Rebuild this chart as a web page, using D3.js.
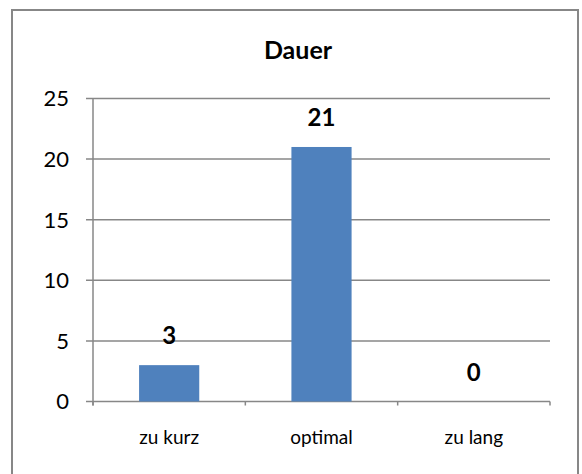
<!DOCTYPE html>
<html>
<head>
<meta charset="utf-8">
<script src="https://cdn.jsdelivr.net/npm/d3@7"></script>
<style>
body{margin:0;background:#fff;}
text{font-family:Lato,"Open Sans",sans-serif;fill:#000;}
</style>
</head>
<body>
<script>
var categories = ["zu kurz", "optimal", "zu lang"];
var values = [3, 21, 0];
var yTicks = [0, 5, 10, 15, 20, 25];
var title = "Dauer";

var W = 582, H = 474;
var plot = {left: 93, right: 550, top: 98.5, bottom: 401.5};

var svg = d3.select("body").append("svg")
  .attr("width", W).attr("height", H);

// outer frame (bottom edge falls outside the picture)
svg.append("rect")
  .attr("x", 12).attr("y", 10)
  .attr("width", 566).attr("height", 480)
  .attr("fill", "none")
  .attr("stroke", "#878787")
  .attr("stroke-width", 2);

var x = d3.scaleBand().domain(categories)
  .range([plot.left, plot.right])
  .paddingInner(0.605).paddingOuter(0.3025);

var y = d3.scaleLinear().domain([0, 25])
  .range([plot.bottom, plot.top]);

// gridlines
svg.append("g").selectAll("line")
  .data(yTicks).enter().append("line")
  .attr("x1", plot.left - 7).attr("x2", plot.right)
  .attr("y1", d => y(d)).attr("y2", d => y(d))
  .attr("stroke", "#878787").attr("stroke-width", 1.5);

// y axis line
svg.append("line")
  .attr("x1", plot.left).attr("x2", plot.left)
  .attr("y1", plot.top).attr("y2", plot.bottom + 4)
  .attr("stroke", "#878787").attr("stroke-width", 1.5);

// y tick labels
svg.append("g").selectAll("text")
  .data(yTicks).enter().append("text")
  .attr("x", 69).attr("y", d => y(d))
  .attr("dy", "0.36em")
  .attr("text-anchor", "end")
  .style("font-size", "22px")
  .text(d => d);

// x category tick marks at band edges
var edges = categories.map(c => x(c) - x.step() * x.paddingInner() / 2);
edges.push(plot.right);
svg.append("g").selectAll("line")
  .data(edges).enter().append("line")
  .attr("x1", d => d).attr("x2", d => d)
  .attr("y1", plot.bottom).attr("y2", plot.bottom + 4)
  .attr("stroke", "#878787").attr("stroke-width", 1.5);

// bars
svg.append("g").selectAll("rect")
  .data(values).enter().append("rect")
  .attr("x", (d, i) => x(categories[i]))
  .attr("y", d => y(d))
  .attr("width", x.bandwidth())
  .attr("height", d => y(0) - y(d))
  .attr("fill", "#4f81bd");

// value labels
svg.append("g").selectAll("text")
  .data(values).enter().append("text")
  .attr("x", (d, i) => x(categories[i]) + x.bandwidth() / 2)
  .attr("y", d => y(d) - 21)
  .attr("text-anchor", "middle")
  .style("font-size", "24px")
  .style("font-weight", "bold")
  .text(d => d);

// category labels
svg.append("g").selectAll("text")
  .data(categories).enter().append("text")
  .attr("x", d => x(d) + x.bandwidth() / 2)
  .attr("y", 444)
  .attr("text-anchor", "middle")
  .style("font-size", "19px")
  .text(d => d);

// title
svg.append("text")
  .attr("x", 298).attr("y", 59)
  .attr("text-anchor", "middle")
  .style("font-size", "25px")
  .style("font-weight", "bold")
  .text(title);
</script>
</body>
</html>
